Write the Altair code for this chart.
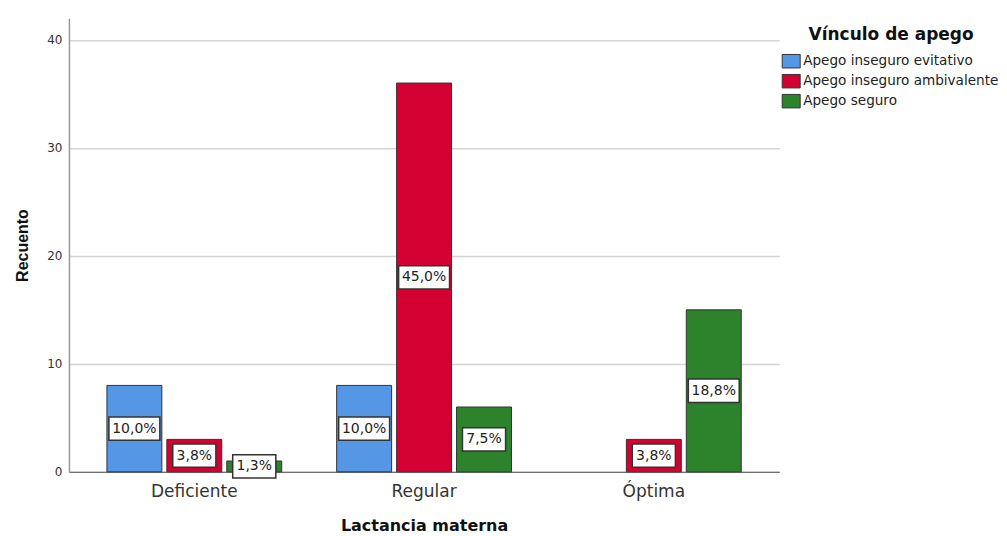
import altair as alt
import pandas as pd

categories = ["Deficiente", "Regular", "Óptima"]
series = ["Apego inseguro evitativo", "Apego inseguro ambivalente", "Apego seguro"]
colors = ["#5697e5", "#d50032", "#2c832c"]

counts_evitativo = [8, 8, 0]
counts_ambivalente = [3, 36, 3]
counts_seguro = [1, 6, 15]

labels_evitativo = ["10,0%", "10,0%", ""]
labels_ambivalente = ["3,8%", "45,0%", "3,8%"]
labels_seguro = ["1,3%", "7,5%", "18,8%"]

rows = []
for s, cnts, labs in zip(series,
                         [counts_evitativo, counts_ambivalente, counts_seguro],
                         [labels_evitativo, labels_ambivalente, labels_seguro]):
    for c, v, l in zip(categories, cnts, labs):
        rows.append({"cat": c, "serie": s, "n": v, "lab": l, "len": len(l)})
df = pd.DataFrame(rows)
df = df[df["n"] > 0]

FONT = "DejaVu Sans"

x_enc = alt.X("cat:N", sort=categories, title="Lactancia materna",
              scale=alt.Scale(paddingInner=0.2, paddingOuter=0.1457),
              axis=alt.Axis(labelAngle=0, labelFontSize=17, labelColor="#333",
                            labelFont=FONT, ticks=False, labelPadding=12,
                            domainColor="#555", domainWidth=1,
                            titleFontSize=16, titleFont=FONT, titleFontWeight="bold",
                            titleColor="#111", titlePadding=18, grid=False))
xo_enc = alt.XOffset("serie:N", sort=series,
                     scale=alt.Scale(paddingInner=0.0833, paddingOuter=0.075))
y_scale = alt.Scale(domain=[0, 42], nice=False)

legend_symbol = "M-1.2,-0.9L1.2,-0.9L1.2,0.9L-1.2,0.9Z"

bars = alt.Chart(df).mark_bar(stroke="#333", strokeWidth=1).encode(
    x=x_enc,
    xOffset=xo_enc,
    y=alt.Y("n:Q", scale=y_scale, title="Recuento",
            axis=alt.Axis(values=[0, 10, 20, 30, 40], ticks=False,
                          labelFontSize=12, labelColor="#333", labelFont=FONT,
                          labelPadding=7, domainColor="#999", domainWidth=1.5,
                          gridColor="#d4d4d4", gridWidth=1.5,
                          titleFontSize=16, titleFont="Liberation Sans",
                          titleFontWeight="bold",
                          titleColor="#111", titlePadding=16)),
    color=alt.Color("serie:N", sort=series,
                    scale=alt.Scale(domain=series, range=colors),
                    legend=alt.Legend(title="Vínculo de apego", orient="none",
                                      legendX=715, legendY=9,
                                      titleFontSize=17, titleFont=FONT,
                                      titleFontWeight="bold", titleColor="#111",
                                      titleAnchor="middle", titleAlign="center",
                                      titlePadding=9, padding=0,
                                      labelFontSize=13.6, labelFont=FONT,
                                      labelColor="#222", labelOffset=4,
                                      labelLimit=320,
                                      symbolType=legend_symbol, symbolSize=225,
                                      symbolStrokeColor="#333",
                                      symbolStrokeWidth=1, rowPadding=2)),
)

path5 = "M-0.98,-0.45L0.98,-0.45L0.98,0.45L-0.98,0.45Z"
path4 = "M-0.83,-0.45L0.83,-0.45L0.83,0.45L-0.83,0.45Z"

boxes = alt.Chart(df).mark_point(filled=False, fill="white", fillOpacity=1,
                                 stroke="#333", strokeWidth=1.5, opacity=1,
                                 size=2704).encode(
    x=alt.X("cat:N", sort=categories),
    xOffset=alt.XOffset("serie:N", sort=series),
    y=alt.Y("mid:Q", scale=y_scale),
    shape=alt.Shape("len:O", scale=alt.Scale(domain=[4, 5], range=[path4, path5]),
                    legend=None),
).transform_calculate(mid="datum.n / 2")

texts = alt.Chart(df).mark_text(font=FONT, fontSize=14, color="#222",
                                baseline="middle", align="center").encode(
    x=alt.X("cat:N", sort=categories),
    xOffset=alt.XOffset("serie:N", sort=series),
    y=alt.Y("mid:Q", scale=y_scale),
    text="lab:N",
).transform_calculate(mid="datum.n / 2")

chart = alt.layer(bars, boxes, texts).properties(
    width=711, height=454,
    padding={"left": 6, "top": 10, "right": 0, "bottom": 5},
).configure_view(stroke=None)

chart.save("out.html", embed_options={"renderer": "svg", "actions": False})
